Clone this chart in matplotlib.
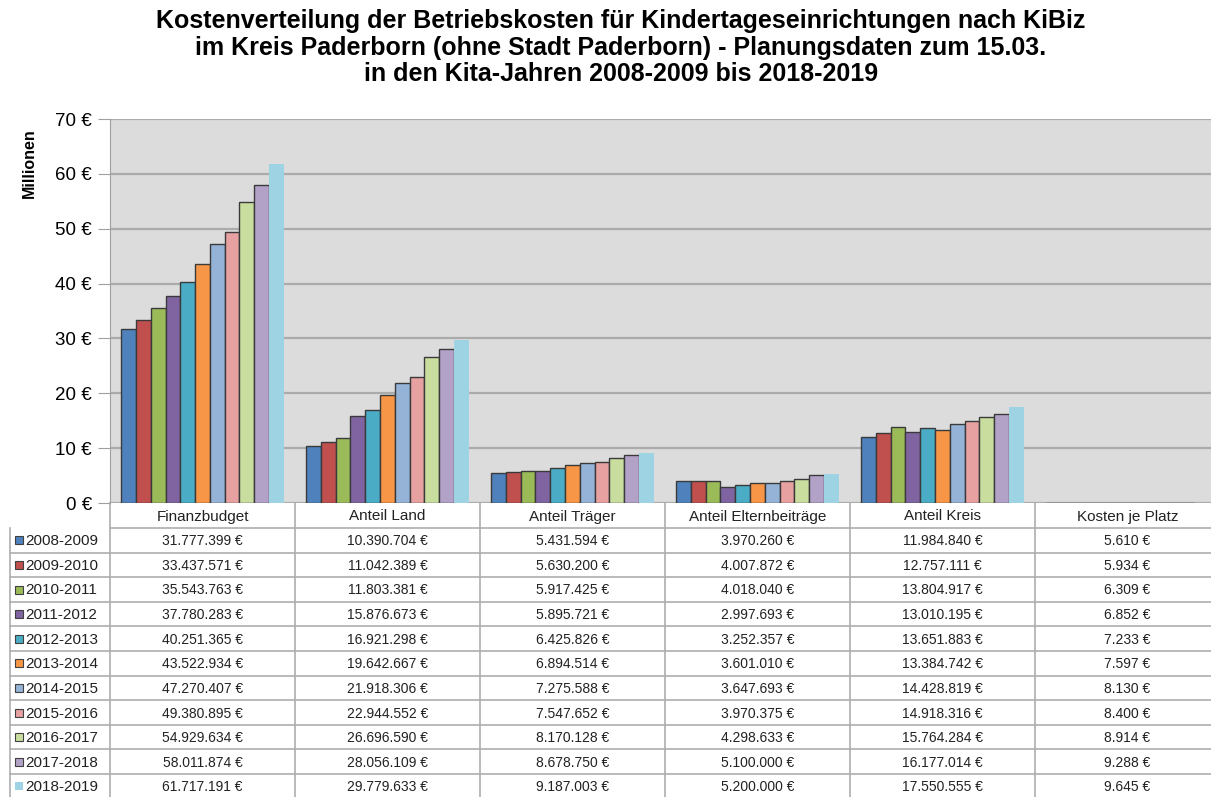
import numpy as np
import matplotlib.pyplot as plt
from matplotlib.patches import Rectangle

plt.rcParams['font.family'] = ['Liberation Sans', 'DejaVu Sans']

years = ['2008-2009', '2009-2010', '2010-2011', '2011-2012', '2012-2013', '2013-2014',
         '2014-2015', '2015-2016', '2016-2017', '2017-2018', '2018-2019']
categories = ['Finanzbudget', 'Anteil Land', 'Anteil Träger', 'Anteil Elternbeiträge',
              'Anteil Kreis', 'Kosten je Platz']

finanzbudget = [31777399, 33437571, 35543763, 37780283, 40251365, 43522934,
                47270407, 49380895, 54929634, 58011874, 61717191]
anteil_land = [10390704, 11042389, 11803381, 15876673, 16921298, 19642667,
               21918306, 22944552, 26696590, 28056109, 29779633]
anteil_traeger = [5431594, 5630200, 5917425, 5895721, 6425826, 6894514,
                  7275588, 7547652, 8170128, 8678750, 9187003]
anteil_eltern = [3970260, 4007872, 4018040, 2997693, 3252357, 3601010,
                 3647693, 3970375, 4298633, 5100000, 5200000]
anteil_kreis = [11984840, 12757111, 13804917, 13010195, 13651883, 13384742,
                14428819, 14918316, 15764284, 16177014, 17550555]
kosten_je_platz = [5610, 5934, 6309, 6852, 7233, 7597, 8130, 8400, 8914, 9288, 9645]

colors = ['#4F81BD', '#C0504D', '#9BBB59', '#8064A2', '#4BACC6', '#F79646',
          '#95B3D7', '#E6A1A0', '#C9DE9E', '#B3A2C7', '#9DD3E2']

values = np.array([finanzbudget, anteil_land, anteil_traeger, anteil_eltern,
                   anteil_kreis, kosten_je_platz], dtype=float)

W, H = 1211, 797
fig = plt.figure(figsize=(W / 100, H / 100), dpi=100)

# plot area (extends a bit past the right edge, as in the cropped original)
px_left, px_right, px_top, px_bottom = 110, 1220, 119, 503
ax = fig.add_axes([px_left / W, 1 - px_bottom / H, (px_right - px_left) / W,
                   (px_bottom - px_top) / H])
ax.set_facecolor('#DCDCDC')
n_cat, n_yr = len(categories), len(years)
x = np.arange(n_cat)
group_w = 0.88
bw = group_w / n_yr
for i in range(n_yr):
    last = i == n_yr - 1
    ax.bar(x - group_w / 2 + bw * (i + 0.5), values[:, i] / 1e6, width=bw,
           color=colors[i], edgecolor='none' if last else '#3A3A3A',
           linewidth=0 if last else 1.0, zorder=3)
ax.set_xlim(-0.5, n_cat - 0.5)
ax.set_ylim(0, 70)
ax.set_yticks(range(0, 71, 10))
ax.set_yticklabels([f'{v} €' for v in range(0, 71, 10)], fontsize=13.5)
ax.yaxis.grid(True, color='#ABABAB', linewidth=1.6, zorder=0)
ax.set_xticks([])
for s in ['top', 'right', 'bottom']:
    ax.spines[s].set_visible(False)
ax.spines['left'].set_color('#A0A0A0')
ax.tick_params(axis='y', length=9, color='#A0A0A0', pad=4)
ax.set_ylabel('Millionen', fontsize=11.5, fontweight='bold')
ax.yaxis.set_label_coords(-0.066, 0.885)

fig.text(621 / W, 1 - 9 / H, 'Kostenverteilung der Betriebskosten für Kindertageseinrichtungen nach KiBiz\n'
         'im Kreis Paderborn (ohne Stadt Paderborn) - Planungsdaten zum 15.03.\n'
         'in den Kita-Jahren 2008-2009 bis 2018-2019',
         ha='center', va='top', fontsize=18, fontweight='bold', linespacing=1.14)

# data table below the plot, in pixel coordinates
tax = fig.add_axes([0, 0, 1, 1], zorder=-1)
tax.set_xlim(0, W)
tax.set_ylim(H, 0)
tax.axis('off')
col_w = (px_right - px_left) / n_cat
row_h = 24.6
head_top = px_bottom
row_top = head_top + 25
line_c = '#AEAEAE'

def fmt(v):
    return f'{int(v):,}'.replace(',', '.') + ' €'

# header row
for j, cat in enumerate(categories):
    cx = px_left + col_w * (j + 0.5)
    tax.text(cx, (head_top + row_top) / 2 + 1, cat, ha='center', va='center', fontsize=11,
             color='#222222')
tax.plot([px_left, W], [row_top, row_top], color=line_c, lw=1.2)
for j in range(n_cat + 1):
    xx = px_left + col_w * j
    tax.plot([xx, xx], [head_top, H], color=line_c, lw=1.2)
tax.plot([10, 10], [row_top, H], color=line_c, lw=1.2)

for i, yr in enumerate(years):
    y0 = row_top + row_h * i
    yc = y0 + row_h / 2
    tax.plot([10, W], [y0 + row_h, y0 + row_h], color=line_c, lw=1.2)
    last = i == n_yr - 1
    tax.add_patch(Rectangle((15, yc - 4), 8, 8, facecolor=colors[i],
                            edgecolor='none' if last else '#404040', lw=0.8))
    tax.text(25, yc + 1, yr, ha='left', va='center', fontsize=11, color='#222222')
    for j in range(n_cat):
        cx = px_left + col_w * (j + 0.5)
        tax.text(cx, yc + 1, fmt(values[j, i]), ha='center', va='center', fontsize=10,
                 color='#222222')

fig.savefig('out.png', dpi=100)
